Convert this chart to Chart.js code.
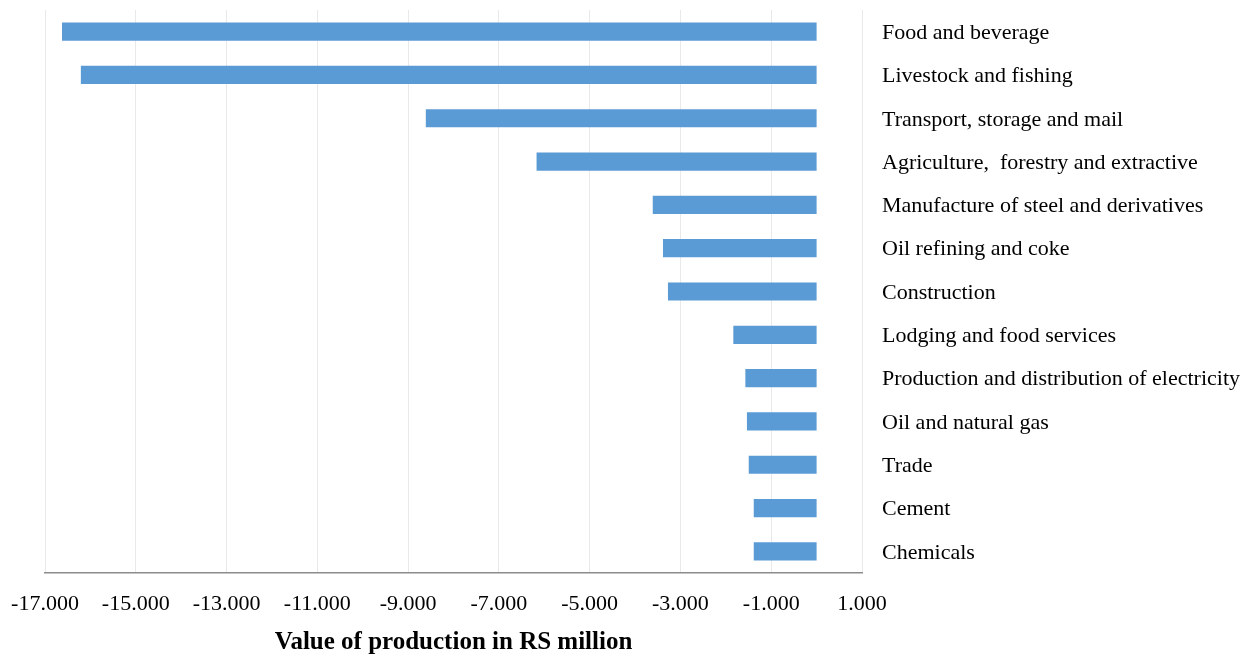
<!DOCTYPE html>
<html>
<head>
<meta charset="utf-8">
<style>
  html, body { margin: 0; padding: 0; background: #ffffff; }
  #wrap { width: 1256px; height: 655px; position: relative; }
</style>
<script src="https://cdn.jsdelivr.net/npm/chart.js@4.4.1/dist/chart.umd.min.js"></script>
</head>
<body>
<div id="wrap"><canvas id="chart" width="1256" height="655"></canvas></div>
<script>
// Sectors, ordered from the largest loss to the smallest
const sectors = [
  'Food and beverage',
  'Livestock and fishing',
  'Transport, storage and mail',
  'Agriculture,  forestry and extractive',
  'Manufacture of steel and derivatives',
  'Oil refining and coke',
  'Construction',
  'Lodging and food services',
  'Production and distribution of electricity',
  'Oil and natural gas',
  'Trade',
  'Cement',
  'Chemicals'
];

// Change in value of production, RS million
const productionChange = [
  -16625, -16210, -8610, -6170, -3610, -3385, -3275,
  -1835, -1570, -1535, -1495, -1385, -1385
];

// Horizontal axis range and spacing
const axisMin = -17000;
const axisMax = 1000;
const axisStep = 2000;

const axisTitle = 'Value of production in RS million';

// Thousands separated by a dot, e.g. -17.000
function formatThousands(v) {
  const sign = v < 0 ? '-' : '';
  const s = String(Math.abs(Math.round(v)));
  return sign + s.replace(/\B(?=(\d{3})+(?!\d))/g, '.');
}

const serif = "'Liberation Serif', 'Times New Roman', serif";

new Chart(document.getElementById('chart'), {
  type: 'bar',
  data: {
    labels: sectors,
    datasets: [{
      data: productionChange,
      backgroundColor: '#5b9bd5',
      borderWidth: 0,
      categoryPercentage: 1,
      barPercentage: 0.42
    }]
  },
  options: {
    indexAxis: 'y',
    responsive: false,
    animation: false,
    layout: { padding: { left: 45, top: 10, right: 0, bottom: 0 } },
    plugins: {
      legend: { display: false },
      tooltip: { enabled: false }
    },
    scales: {
      x: {
        min: axisMin,
        max: axisMax,
        grid: {
          drawTicks: false,
          lineWidth: 1,
          color: ctx => (ctx.tick && ctx.tick.value === 0) ? '#8c8c8c' : '#e9e9e9'
        },
        border: { display: true, color: '#8c8c8c', width: 1.5 },
        ticks: {
          stepSize: axisStep,
          padding: 18,
          color: '#000000',
          font: { family: serif, size: 22 },
          maxRotation: 0,
          autoSkip: false,
          callback: v => formatThousands(v)
        },
        title: {
          display: true,
          text: axisTitle,
          color: '#000000',
          font: { family: serif, size: 25, weight: 'bold' },
          padding: { top: 15, bottom: -3 }
        },
        afterFit: scale => {
          scale.height = 82;
          scale.paddingLeft = 0;
          scale.paddingRight = 0;
        }
      },
      y: {
        position: 'right',
        grid: { display: false, drawTicks: false },
        border: { display: false },
        ticks: {
          padding: 20,
          labelOffset: 1.5,
          color: '#000000',
          font: { family: serif, size: 22 },
          autoSkip: false
        },
        afterFit: scale => {
          scale.width = 394;
          scale.paddingTop = 0;
          scale.paddingBottom = 0;
        }
      }
    }
  }
});
</script>
</body>
</html>
